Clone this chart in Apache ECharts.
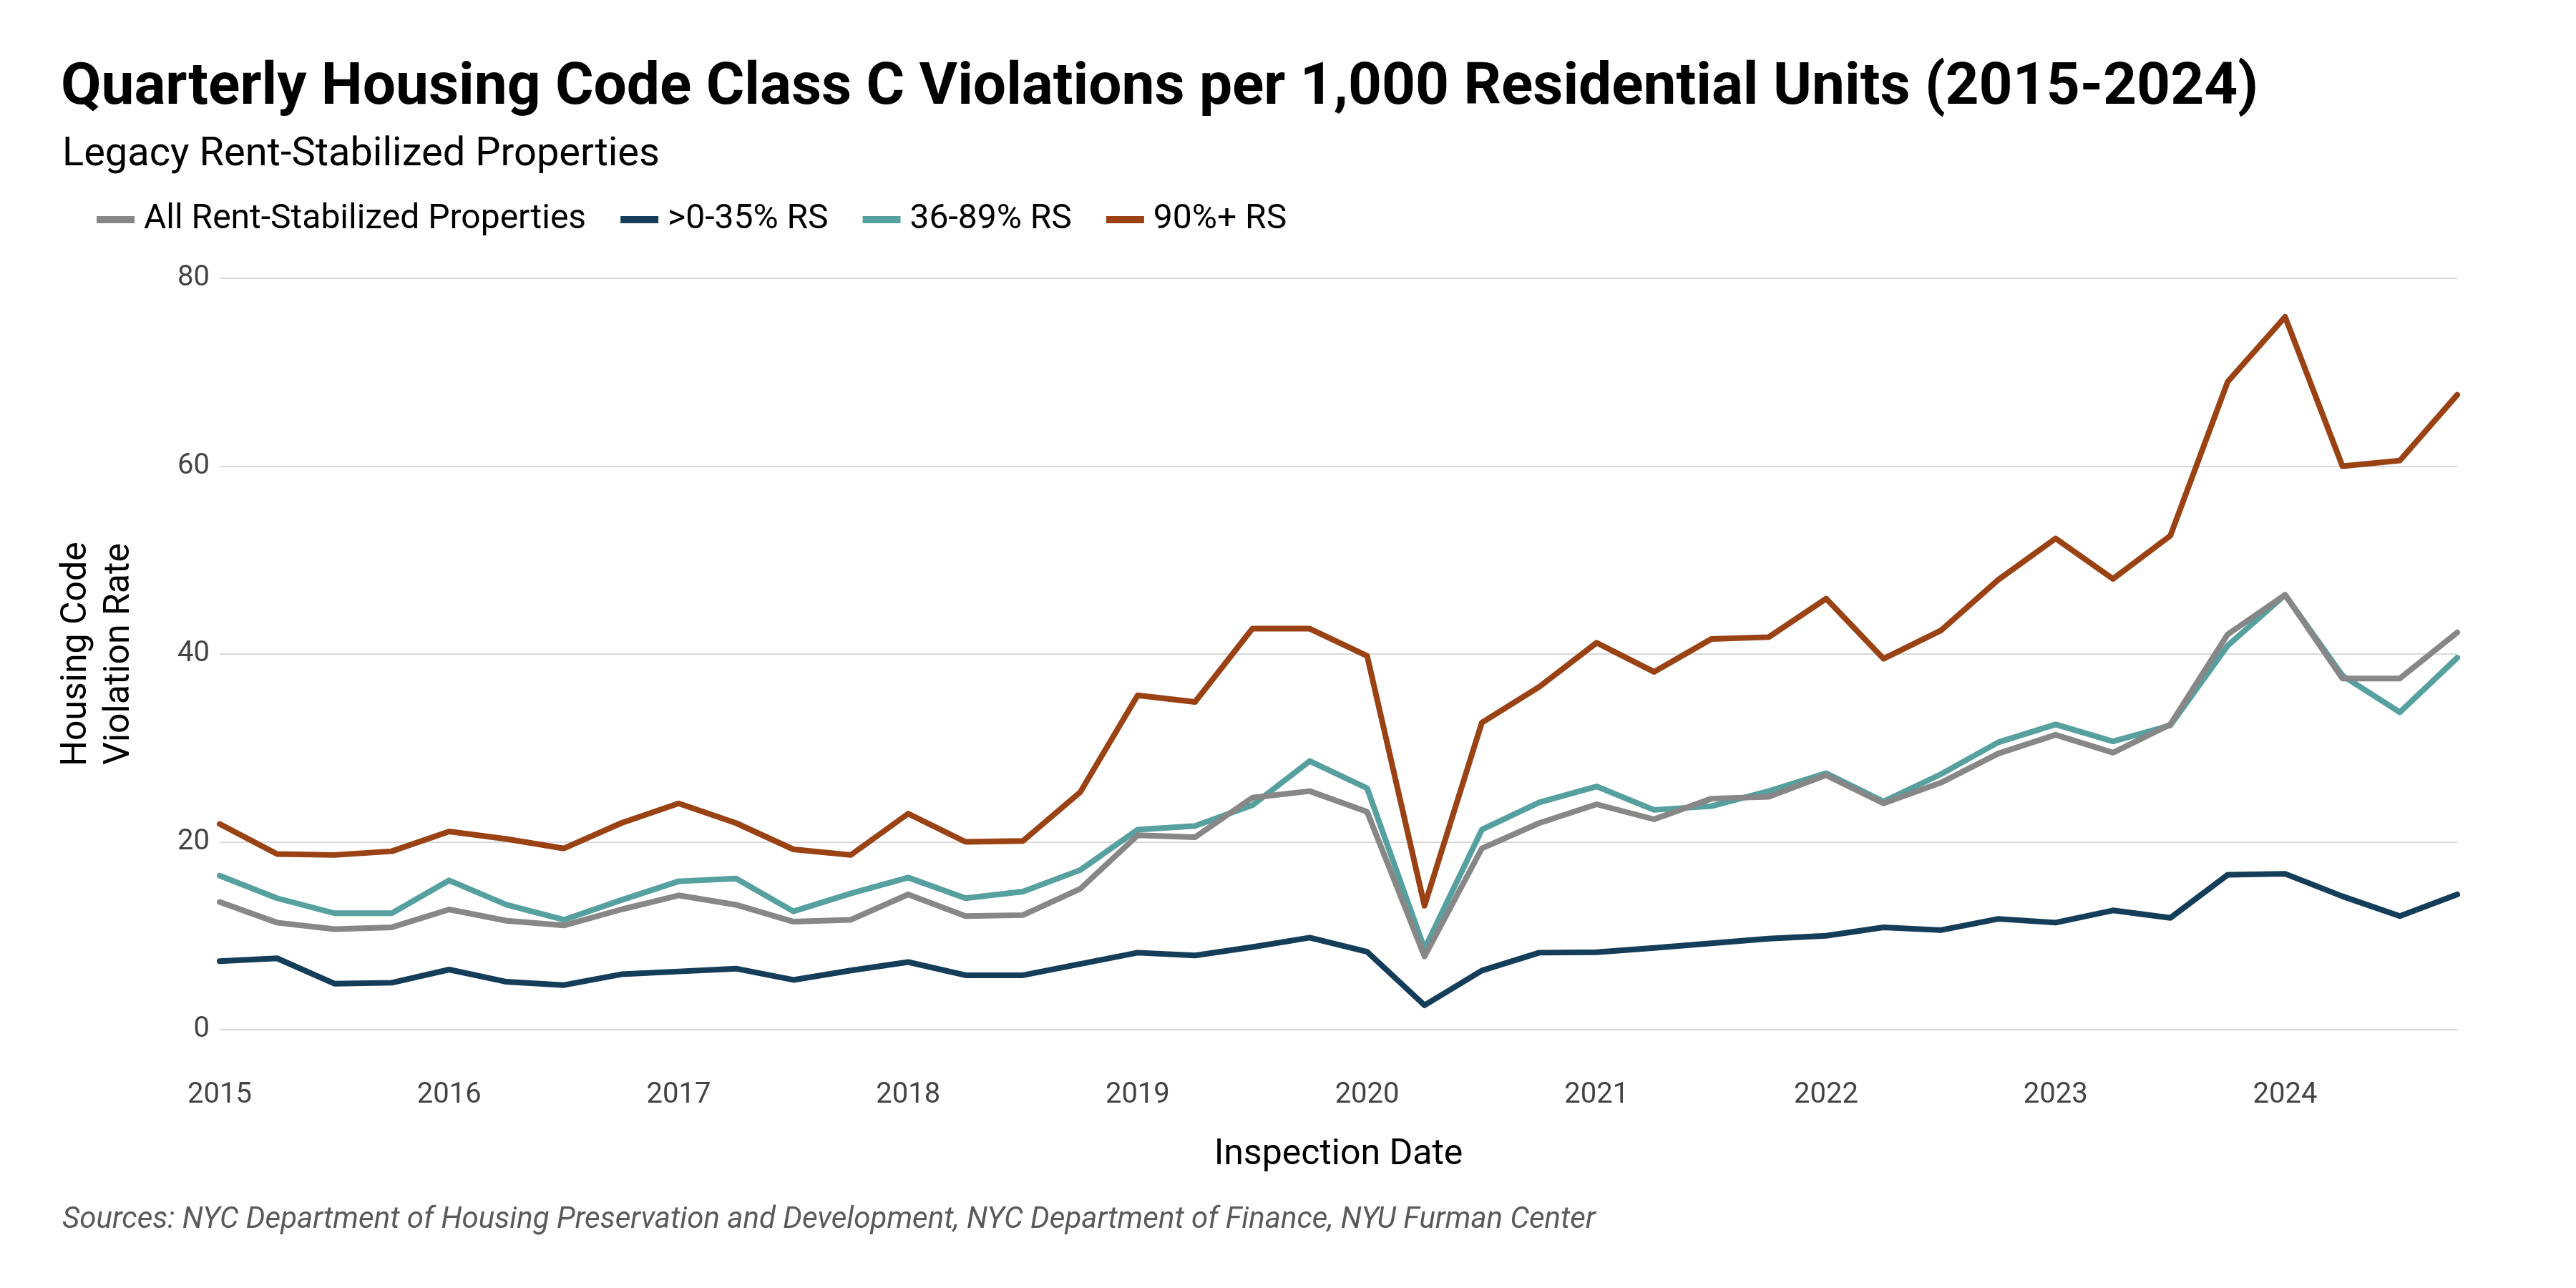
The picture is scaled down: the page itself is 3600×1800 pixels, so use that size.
<!DOCTYPE html>
<html>
<head>
<meta charset="utf-8">
<script src="https://cdn.jsdelivr.net/npm/echarts@6/dist/echarts.min.js"></script>
<style>
  html, body { margin: 0; padding: 0; background: #fff; }
  #chart { width: 3600px; height: 1800px; }
</style>
</head>
<body>
<div id="chart"></div>
<script>
// 季度数据 2015Q1 - 2024Q4
const years = ['2015', '2016', '2017', '2018', '2019', '2020', '2021', '2022', '2023', '2024'];
const quarters = [];
years.forEach(y => ['Q1', 'Q2', 'Q3', 'Q4'].forEach(q => quarters.push(y + ' ' + q)));

const allRS = [13.6, 11.4, 10.7, 10.9, 12.8, 11.6, 11.1, 12.8, 14.3, 13.3, 11.5, 11.7,
  14.4, 12.1, 12.2, 15.0, 20.7, 20.5, 24.7, 25.4, 23.2, 7.8, 19.3, 22.0,
  24.0, 22.4, 24.6, 24.8, 27.1, 24.1, 26.3, 29.4, 31.4, 29.5, 32.5, 42.1,
  46.3, 37.4, 37.4, 42.3];
const low = [7.3, 7.6, 4.9, 5.0, 6.4, 5.1, 4.75, 5.9, 6.2, 6.5, 5.3, 6.3,
  7.2, 5.8, 5.8, 7.0, 8.2, 7.9, 8.8, 9.8, 8.3, 2.6, 6.3, 8.2,
  8.25, 8.7, 9.2, 9.7, 10.0, 10.9, 10.6, 11.8, 11.4, 12.7, 11.9, 16.5,
  16.6, 14.2, 12.1, 14.4];
const mid = [16.4, 14.0, 12.4, 12.4, 15.9, 13.3, 11.7, 13.8, 15.8, 16.1, 12.6, 14.5,
  16.2, 14.0, 14.7, 17.0, 21.3, 21.7, 23.9, 28.6, 25.7, 8.6, 21.3, 24.2,
  25.9, 23.4, 23.8, 25.4, 27.3, 24.3, 27.2, 30.6, 32.5, 30.7, 32.4, 40.9,
  46.3, 37.7, 33.8, 39.6];
const high = [21.9, 18.7, 18.6, 19.0, 21.1, 20.3, 19.3, 22.0, 24.1, 22.0, 19.2, 18.6,
  23.0, 20.0, 20.1, 25.3, 35.6, 34.9, 42.7, 42.7, 39.8, 13.2, 32.7, 36.5,
  41.2, 38.1, 41.6, 41.8, 45.9, 39.5, 42.5, 47.9, 52.3, 48.0, 52.6, 69.0,
  75.9, 60.0, 60.6, 67.6];

const yTicks = [0, 20, 40, 60, 80];

const seriesNames = ['All Rent-Stabilized Properties', '>0-35% RS', '36-89% RS', '90%+ RS'];
const colors = {
  all: '#878787',
  low: '#143d59',
  mid: '#56a0a0',
  high: '#9a4214'
};

const font = "'Roboto', sans-serif";
const chart = echarts.init(document.getElementById('chart'));

const lineSeries = (name, data, color, z) => ({
  name,
  type: 'line',
  data,
  z,
  symbol: 'none',
  smooth: false,
  lineStyle: { width: 8, color, join: 'round', cap: 'round' },
  itemStyle: { color },
  emphasis: { disabled: true }
});

chart.setOption({
  backgroundColor: '#fff',
  animation: false,
  textStyle: { fontFamily: font },
  title: [
    {
      text: 'Quarterly Housing Code Class C Violations per 1,000 Residential Units (2015-2024)',
      left: 80, top: 78,
      textStyle: { fontFamily: font, fontSize: 82, fontWeight: 'bold', color: '#000' }
    },
    {
      text: 'Legacy Rent-Stabilized Properties',
      left: 82, top: 184,
      textStyle: { fontFamily: font, fontSize: 56, fontWeight: 'normal', color: '#000' }
    },
    {
      text: 'Sources: NYC Department of Housing Preservation and Development, NYC Department of Finance, NYU Furman Center',
      left: 82, top: 1679,
      textStyle: { fontFamily: font, fontSize: 42, fontStyle: 'italic', fontWeight: 'normal', color: '#5a5a5a' }
    }
  ],
  legend: {
    data: seriesNames,
    left: 130, top: 278,
    icon: 'rect',
    itemWidth: 53, itemHeight: 10,
    itemGap: 48,
    textStyle: { fontFamily: font, fontSize: 48, color: '#000', padding: [0, 0, 0, 8] }
  },
  grid: { left: 307, right: 166, top: 389, bottom: 361, containLabel: false },
  xAxis: {
    type: 'category',
    data: quarters,
    boundaryGap: false,
    name: 'Inspection Date',
    nameLocation: 'middle',
    nameGap: 150,
    nameTextStyle: { fontFamily: font, fontSize: 50, color: '#000' },
    axisLine: { show: false },
    axisTick: { show: false },
    axisLabel: {
      interval: 3,
      margin: 72,
      fontFamily: font, fontSize: 40, color: '#444',
      formatter: (v) => v.split(' ')[0]
    },
    splitLine: { show: false }
  },
  yAxis: {
    type: 'value',
    min: yTicks[0], max: yTicks[yTicks.length - 1], interval: 20,
    name: 'Housing Code\nViolation Rate',
    nameLocation: 'middle',
    nameRotate: 90,
    nameGap: 110,
    nameTextStyle: { fontFamily: font, fontSize: 50, color: '#000', lineHeight: 60 },
    axisLine: { show: false },
    axisTick: { show: false },
    axisLabel: { margin: 14, fontFamily: font, fontSize: 40, color: '#444' },
    splitLine: { lineStyle: { color: '#d9d9d9', width: 2 } }
  },
  series: [
    lineSeries(seriesNames[1], low, colors.low, 2),
    lineSeries(seriesNames[2], mid, colors.mid, 3),
    lineSeries(seriesNames[3], high, colors.high, 4),
    lineSeries(seriesNames[0], allRS, colors.all, 5)
  ]
});
</script>
</body>
</html>
